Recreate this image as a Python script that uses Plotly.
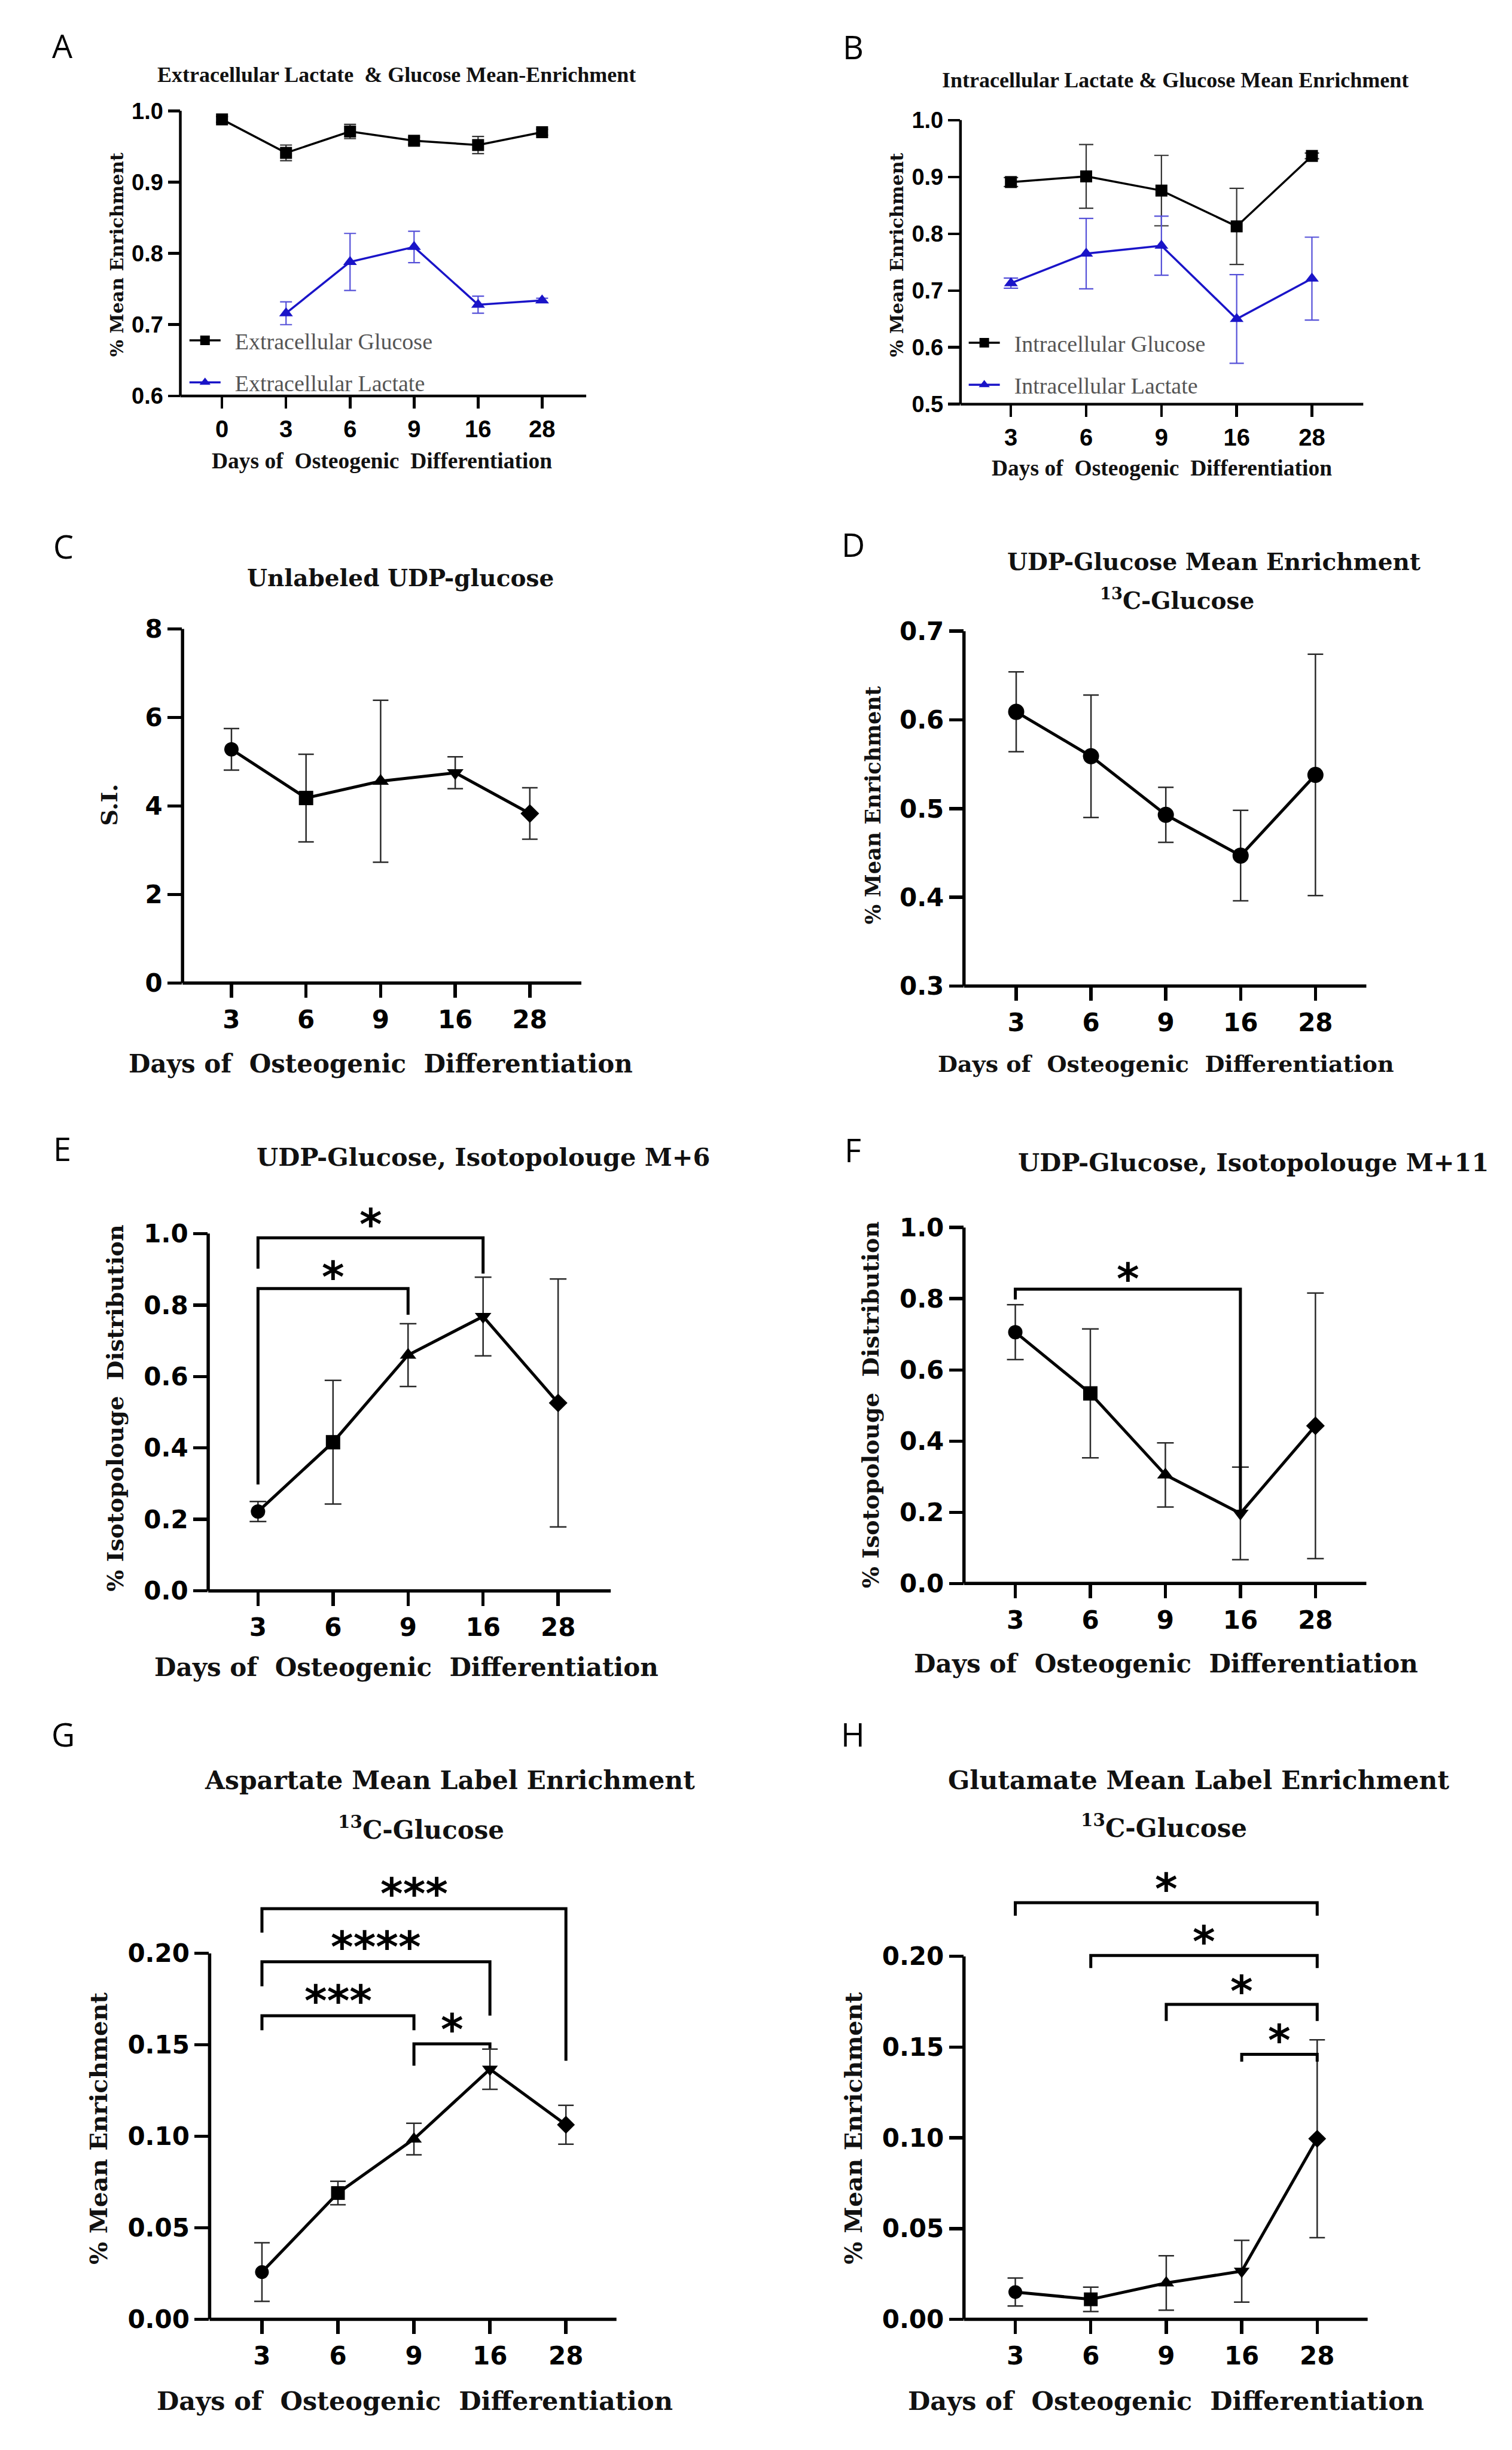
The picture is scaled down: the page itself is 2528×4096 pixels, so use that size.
import plotly.graph_objects as go

# ----------------------------- data -----------------------------
days_a = ["0", "3", "6", "9", "16", "28"]
days = ["3", "6", "9", "16", "28"]

# A: extracellular enrichment
ext_glucose = [0.988, 0.941, 0.971, 0.958, 0.952, 0.970]
ext_glucose_err = [0.004, 0.011, 0.010, 0.005, 0.012, 0.004]
ext_lactate = [0.716, 0.788, 0.809, 0.728, 0.734]
ext_lactate_err = [0.016, 0.040, 0.022, 0.012, 0.003]

# B: intracellular enrichment
int_glucose = [0.891, 0.901, 0.876, 0.813, 0.937]
int_glucose_err = [0.008, 0.056, 0.062, 0.067, 0.005]
int_lactate = [0.713, 0.765, 0.779, 0.650, 0.721]
int_lactate_err = [0.009, 0.062, 0.052, 0.078, 0.073]

# C - H
udp_unlabeled = [5.28, 4.18, 4.56, 4.75, 3.83]
udp_unlabeled_err = [0.47, 0.99, 1.83, 0.36, 0.58]
udp_mean = [0.609, 0.559, 0.493, 0.447, 0.538]
udp_mean_err = [0.045, 0.069, 0.031, 0.051, 0.136]
udp_m6 = [0.222, 0.416, 0.660, 0.768, 0.526]
udp_m6_err = [0.028, 0.173, 0.088, 0.110, 0.347]
udp_m11 = [0.706, 0.534, 0.305, 0.197, 0.443]
udp_m11_err = [0.077, 0.181, 0.090, 0.130, 0.373]
asp_mean = [0.0258, 0.0690, 0.0985, 0.1367, 0.1063]
asp_mean_err = [0.0160, 0.0064, 0.0086, 0.0110, 0.0106]
glu_mean = [0.0150, 0.0110, 0.0200, 0.0265, 0.0995]
glu_mean_err = [0.0077, 0.0067, 0.0150, 0.0170, 0.0545]

# significance brackets: (from, to, bar level, left leg end, right leg end, label, label level)
sig_m6 = [("3", "16", 0.988, 0.902, 0.888, "*", 1.052),
          ("3", "9", 0.846, 0.298, 0.773, "*", 0.905)]
sig_m11 = [("3", "16", 0.827, 0.798, 0.200, "*", 0.882)]
sig_asp = [("3", "28", 0.2244, 0.2113, 0.1413, "***", 0.2377),
           ("3", "16", 0.1954, 0.1820, 0.1660, "****", 0.2086),
           ("3", "9", 0.1659, 0.1580, 0.1580, "***", 0.1792),
           ("9", "16", 0.1505, 0.1386, 0.1480, "*", 0.1634)]
sig_glu = [("3", "28", 0.2296, 0.2224, 0.2224, "*", 0.2425),
           ("6", "28", 0.2005, 0.1936, 0.1936, "*", 0.2134),
           ("9", "28", 0.1735, 0.1644, 0.1644, "*", 0.1860),
           ("16", "28", 0.1460, 0.1420, 0.1420, "*", 0.1590)]

# y tick values / labels
yt_a = [0.6, 0.7, 0.8, 0.9, 1.0]
yt_a_text = ["0.6", "0.7", "0.8", "0.9", "1.0"]
yt_b = [0.5, 0.6, 0.7, 0.8, 0.9, 1.0]
yt_b_text = ["0.5", "0.6", "0.7", "0.8", "0.9", "1.0"]
yt_c = [0, 2, 4, 6, 8]
yt_c_text = ["0", "2", "4", "6", "8"]
yt_d = [0.3, 0.4, 0.5, 0.6, 0.7]
yt_d_text = ["0.3", "0.4", "0.5", "0.6", "0.7"]
yt_ef = [0.0, 0.2, 0.4, 0.6, 0.8, 1.0]
yt_ef_text = ["0.0", "0.2", "0.4", "0.6", "0.8", "1.0"]
yt_gh = [0.0, 0.05, 0.10, 0.15, 0.20]
yt_gh_text = ["0.00", "0.05", "0.10", "0.15", "0.20"]

symbols5 = ["circle", "square", "triangle-up", "triangle-down", "diamond"]

# ----------------------------- layout helpers -----------------------------
W, H = 2528, 4096
RW, RH = 3446.0, 5583.0
S = W / RW


def fx(x):
    return x / RW


def fy(y):
    return 1 - y / RH


SERIF = "DejaVu Serif"
TIMES = "Liberation Serif"
SANS = "DejaVu Sans"
NARROW = "Liberation Sans Narrow, Liberation Sans, Arial"

# geometry of each panel in reference pixels
panels = {
    "A": dict(n=1, cats=days_a, left=411, right=1336, t0=506, sp=145.9,
              ylo=0.6, plo=880, yhi=1.0, phi=222.5, ytop=1.0,
              yt=yt_a, ytt=yt_a_text, small=True),
    "B": dict(n=2, cats=days, left=2189, right=3107, t0=2304, sp=171.5,
              ylo=0.5, plo=899, yhi=1.0, phi=244, ytop=1.0,
              yt=yt_b, ytt=yt_b_text, small=True),
    "C": dict(n=3, cats=days, left=416, right=1325, t0=527.5, sp=170,
              ylo=0, plo=2234, yhi=8, phi=1417.5, ytop=8,
              yt=yt_c, ytt=yt_c_text, small=False),
    "D": dict(n=4, cats=days, left=2197, right=3114, t0=2316, sp=170.5,
              ylo=0.3, plo=2241, yhi=0.7, phi=1422.5, ytop=0.7,
              yt=yt_d, ytt=yt_d_text, small=False),
    "E": dict(n=5, cats=days, left=474.5, right=1392, t0=588, sp=171,
              ylo=0, plo=3636, yhi=1.0, phi=2812, ytop=1.08,
              yt=yt_ef, ytt=yt_ef_text, small=False),
    "F": dict(n=6, cats=days, left=2197, right=3114, t0=2314, sp=171,
              ylo=0, plo=3619, yhi=1.0, phi=2798, ytop=1.0,
              yt=yt_ef, ytt=yt_ef_text, small=False),
    "G": dict(n=7, cats=days, left=477.7, right=1405, t0=597, sp=173.2,
              ylo=0, plo=5316, yhi=0.20, phi=4472, ytop=0.245,
              yt=yt_gh, ytt=yt_gh_text, small=False),
    "H": dict(n=8, cats=days, left=2197, right=3117, t0=2314, sp=172,
              ylo=0, plo=5316, yhi=0.20, phi=4479, ytop=0.245,
              yt=yt_gh, ytt=yt_gh_text, small=False),
}

fig = go.Figure()
layout = dict(width=W, height=H, autosize=False,
              margin=dict(l=0, r=0, t=0, b=0),
              paper_bgcolor="white", plot_bgcolor="white",
              showlegend=True)
shapes = []
annotations = []


def ids(n):
    return ("x" if n == 1 else f"x{n}"), ("y" if n == 1 else f"y{n}")


for key, p in panels.items():
    n = p["n"]
    xid, yid = ids(n)
    xkey = "xaxis" if n == 1 else f"xaxis{n}"
    ykey = "yaxis" if n == 1 else f"yaxis{n}"
    small = p["small"]
    lw = 4.5 if small else 5.5
    tl = 20 if small else 24
    ppu = (p["plo"] - p["phi"]) / (p["yhi"] - p["ylo"])
    top_px = p["plo"] - (p["ytop"] - p["ylo"]) * ppu
    xr = [(p["left"] - p["t0"]) / p["sp"], (p["right"] - p["t0"]) / p["sp"]]
    tickfont_x = dict(family=NARROW, size=40, color="black", weight="bold") if small else \
        dict(family=SANS, size=42, color="black", weight="bold")
    tickfont_y = dict(family=NARROW, size=38, color="black", weight="bold") if small else \
        dict(family=SANS, size=42, color="black", weight="bold")
    layout[xkey] = dict(domain=[fx(p["left"]), fx(p["right"])], anchor=yid,
                        type="category", categoryorder="array", categoryarray=p["cats"],
                        range=xr, showline=False, showgrid=False, zeroline=False,
                        ticks="outside", ticklen=tl, tickwidth=lw, tickcolor="black",
                        tickfont=tickfont_x, fixedrange=True)
    layout[ykey] = dict(domain=[fy(p["plo"]), fy(top_px)], anchor=xid,
                        range=[p["ylo"], p["ytop"]], showline=False, showgrid=False,
                        zeroline=False, tickmode="array", tickvals=p["yt"], ticktext=p["ytt"],
                        ticks="outside", ticklen=tl, tickwidth=lw, tickcolor="black",
                        tickfont=tickfont_y, fixedrange=True)
    # axis lines
    frac = (p["yhi"] - p["ylo"]) / (p["ytop"] - p["ylo"])
    shapes.append(dict(type="line", xref=f"{xid} domain", yref=f"{yid} domain",
                       x0=0, x1=0, y0=0, y1=frac, line=dict(color="black", width=lw)))
    shapes.append(dict(type="line", xref=f"{xid} domain", yref=f"{yid} domain",
                       x0=0, x1=1, y0=0, y1=0, line=dict(color="black", width=lw)))


def add_series(key, xs, ys, errs, color, ecolor, symbol, msize, lw, ew, ecap,
               name=None, legend=None):
    xid, yid = ids(panels[key]["n"])
    fig.add_trace(go.Scatter(
        x=xs, y=ys, mode="lines+markers",
        name=("\u00a0\u00a0" + name) if name else key,
        line=dict(color=color, width=lw),
        marker=dict(symbol=symbol, size=msize, color=color, line=dict(width=0)),
        error_y=dict(type="data", array=errs, visible=True, color=ecolor,
                     thickness=ew, width=ecap),
        xaxis=xid, yaxis=yid, cliponaxis=False,
        showlegend=legend is not None, legend=legend or "legend",
        legendgroup=name or key))


BLUE = "#1a14c8"
BLUE_E = "#5550d8"

# A
add_series("A", days_a, ext_glucose, ext_glucose_err, "black", "#333333", "square", 20, 3.5, 2.2, 10,
           name="Extracellular Glucose", legend="legend")
add_series("A", days, ext_lactate, ext_lactate_err, BLUE, BLUE_E, "triangle-up", 20, 3.5, 2.2, 10,
           name="Extracellular Lactate", legend="legend")
# B
add_series("B", days, int_glucose, int_glucose_err, "black", "#333333", "square", 20, 3.5, 2.2, 12,
           name="Intracellular Glucose", legend="legend2")
add_series("B", days, int_lactate, int_lactate_err, BLUE, BLUE_E, "triangle-up", 20, 3.5, 2.2, 12,
           name="Intracellular Lactate", legend="legend2")
# C - H
add_series("C", days, udp_unlabeled, udp_unlabeled_err, "black", "#2a2a2a", symbols5, 24, 5, 2.5, 13)
add_series("D", days, udp_mean, udp_mean_err, "black", "#2a2a2a", "circle", 27, 5, 2.5, 13)
add_series("E", days, udp_m6, udp_m6_err, "black", "#2a2a2a", symbols5, 24, 5, 2.5, 14)
add_series("F", days, udp_m11, udp_m11_err, "black", "#2a2a2a", symbols5, 24, 5, 2.5, 14)
add_series("G", days, asp_mean, asp_mean_err, "black", "#2a2a2a", symbols5, 23, 5, 2.5, 13)
add_series("H", days, glu_mean, glu_mean_err, "black", "#2a2a2a", symbols5, 23, 5, 2.5, 13)

# significance brackets
STAR_SIZE = 72


def add_brackets(key, sigs):
    xid, yid = ids(panels[key]["n"])
    cats = panels[key]["cats"]
    for a, b, bar, l0, l1, lab, ly in sigs:
        fig.add_trace(go.Scatter(x=[a, a, b, b], y=[l0, bar, bar, l1], mode="lines",
                                 line=dict(color="black", width=5), xaxis=xid, yaxis=yid,
                                 showlegend=False, hoverinfo="skip"))
        mid = (cats.index(a) + cats.index(b)) / 2
        annotations.append(dict(x=mid, y=ly, xref=xid, yref=yid, text=lab, showarrow=False,
                                xanchor="center", yanchor="middle", yshift=-STAR_SIZE * 0.22,
                                font=dict(family=SANS, size=STAR_SIZE, color="black", weight="bold")))


add_brackets("E", sig_m6)
add_brackets("F", sig_m11)
add_brackets("G", sig_asp)
add_brackets("H", sig_glu)


# ----------------------------- texts -----------------------------
def txt(x, y, text, family, size, weight="bold", color="#111111", angle=0, xanchor="center"):
    annotations.append(dict(x=fx(x), y=fy(y), xref="paper", yref="paper", text=text,
                            showarrow=False, xanchor=xanchor, yanchor="middle", textangle=angle,
                            font=dict(family=family, size=size, color=color, weight=weight)))


# panel letters
for lab, (lx, ly) in {"A": (142, 72), "B": (1944, 74), "C": (144, 1226), "D": (1944, 1222),
                      "E": (142, 2616), "F": (1944, 2618), "G": (144, 3966),
                      "H": (1944, 3966)}.items():
    txt(lx, ly, lab, "Open Sans", 54, weight="normal", color="black")

XT = "Days of\u00a0 Osteogenic\u00a0 Differentiation"
# A / B
txt(904, 139, "Extracellular Lactate\u00a0 &amp; Glucose Mean-Enrichment", TIMES, 36)
txt(2678, 152, "Intracellular Lactate &amp; Glucose Mean Enrichment", TIMES, 36)
txt(871, 1030, XT, TIMES, 37.5)
txt(2648, 1047, XT, TIMES, 37.5)
txt(267, 554, "% Mean Enrichment", SERIF, 30, angle=-90)
txt(2044, 554, "% Mean Enrichment", SERIF, 30, angle=-90)
# C
txt(913, 1299, "Unlabeled UDP-glucose", SERIF, 39)
txt(867, 2420, XT, SERIF, 42)
txt(249, 1824, "S.I.", SERIF, 38, angle=-90)
# D
txt(2767, 1262, "UDP-Glucose Mean Enrichment", SERIF, 39)
txt(2683, 1349, "<sup>13</sup>C-Glucose", SERIF, 39)
txt(2658, 2420, XT, SERIF, 38)
txt(1989, 1824, "% Mean Enrichment", SERIF, 35, angle=-90)
# E
txt(1102, 2636, "UDP-Glucose, Isotopolouge M+6", SERIF, 41.5)
txt(926, 3812, XT, SERIF, 42)
txt(262, 3215, "% Isotopolouge\u00a0 Distribution", SERIF, 38, angle=-90)
# F
txt(2856, 2648, "UDP-Glucose, Isotopolouge M+11", SERIF, 41.5)
txt(2658, 3804, XT, SERIF, 42)
txt(1984, 3207, "% Isotopolouge\u00a0 Distribution", SERIF, 38, angle=-90)
# G
txt(1025, 4073, "Aspartate Mean Label Enrichment", SERIF, 42.5)
txt(960, 4183, "<sup>13</sup>C-Glucose", SERIF, 42)
txt(945, 5505, XT, SERIF, 43)
txt(224, 4875, "% Mean Enrichment", SERIF, 40, angle=-90)
# H
txt(2732, 4073, "Glutamate Mean Label Enrichment", SERIF, 42.5)
txt(2653, 4178, "<sup>13</sup>C-Glucose", SERIF, 42)
txt(2658, 5505, XT, SERIF, 43)
txt(1945, 4875, "% Mean Enrichment", SERIF, 40, angle=-90)

legend_common = dict(xanchor="left", yanchor="middle", bgcolor="rgba(0,0,0,0)",
                     font=dict(family=TIMES, size=38, color="#555555"),
                     itemwidth=52, tracegroupgap=18, itemclick=False, itemdoubleclick=False)
layout["legend"] = dict(x=fx(425), y=fy(800.5), **legend_common)
layout["legend2"] = dict(x=fx(2201), y=fy(806), **legend_common)
layout["shapes"] = shapes
layout["annotations"] = annotations
fig.update_layout(**layout)

fig.write_html("out.html",
               config={"displayModeBar": False, "staticPlot": True},
               post_script="document.body.style.margin='0';document.body.style.overflow='hidden';")
